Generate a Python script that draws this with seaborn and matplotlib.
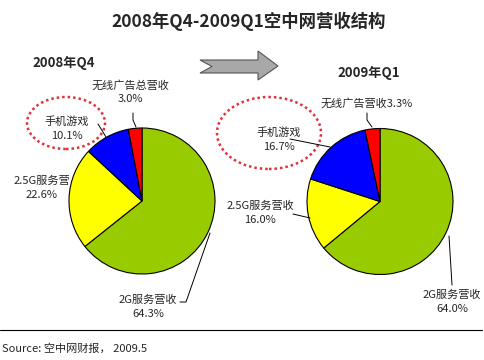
import matplotlib
matplotlib.use("Agg")
import matplotlib.pyplot as plt
import seaborn as sns
from matplotlib.patches import Ellipse, Polygon

categories = ["2G服务营收", "2.5G服务营收", "手机游戏", "无线广告营收"]
q4_values = [64.3, 22.6, 10.1, 3.0]
q1_values = [64.0, 16.0, 16.7, 3.3]
colors = ["#99CC00", "#FFFF00", "#0000FF", "#FF0000"]

sns.set_theme(style="white")
plt.rcParams['font.family'] = ['Noto Sans CJK SC', 'DejaVu Sans']

W, H = 485, 360
fig = plt.figure(figsize=(4.85, 3.6), dpi=100)
ax = fig.add_axes([0, 0, 1, 1])

def Y(py):
    return H - py

def draw_pie(vals, cx, cy, r):
    ax.pie(vals, colors=colors, startangle=90, counterclock=False,
           center=(cx, Y(cy)), radius=r,
           wedgeprops=dict(edgecolor="black", linewidth=0.8))

draw_pie(q4_values, 142, 201, 73)
draw_pie(q1_values, 380, 201.5, 73)

ax.set_xlim(0, W)
ax.set_ylim(0, H)
ax.set_aspect("auto")
ax.axis("off")

fs = 8
# title
ax.text(249, Y(21), "2008年Q4-2009Q1空中网营收结构", ha="center", va="center",
        fontsize=12.5, fontweight="bold")
ax.text(64, Y(63), "2008年Q4", ha="center", va="center", fontsize=9.5, fontweight="bold")
ax.text(369, Y(73), "2009年Q1", ha="center", va="center", fontsize=9.5, fontweight="bold")

# arrow
arrow = Polygon([(200, Y(60)), (258, Y(60)), (258, Y(51)), (278, Y(66)),
                 (258, Y(80)), (258, Y(73)), (200, Y(73)), (212, Y(66.5))],
                closed=True, facecolor="#A8A8A8", edgecolor="#555555", linewidth=0.8)
ax.add_patch(arrow)

# ellipses
ax.add_patch(Ellipse((66, Y(123)), 78, 52, fill=False, edgecolor="#E0303A",
                     linestyle=(0, (1, 1.2)), linewidth=1.8))
ax.add_patch(Ellipse((269, Y(133)), 104, 72, fill=False, edgecolor="#E0303A",
                     linestyle=(0, (1, 1.2)), linewidth=1.8))

def label(x, y, s):
    ax.text(x, Y(y), s, ha="center", va="center", fontsize=fs, linespacing=1.5)

def line(pts):
    xs = [p[0] for p in pts]
    ys = [Y(p[1]) for p in pts]
    ax.plot(xs, ys, color="black", linewidth=0.7)

# left labels
label(130, 92, "无线广告总营收\n3.0%")
line([(133, 113), (133, 120), (136, 127)])
label(67, 129, "手机游戏\n10.1%")
line([(98, 124), (106, 137)])
label(42, 188, "2.5G服务营\n22.6%")
label(148, 307, "2G服务营收\n64.3%")
line([(180, 302), (186, 302), (210, 233)])

# right labels
ax.text(367, Y(103), "无线广告营收3.3%", ha="center", va="center", fontsize=fs)
line([(367, 113), (367, 120), (372, 127)])
label(279, 140, "手机游戏\n16.7%")
line([(290, 139), (330, 147)])
label(260, 213, "2.5G服务营收\n16.0%")
line([(293, 214), (310, 218)])
label(452, 302, "2G服务营收\n64.0%")
line([(452, 285), (449, 236)])

# bottom rule and source
ax.plot([0, 482], [Y(330), Y(330)], color="black", linewidth=0.8)
ax.text(2, Y(348), "Source: 空中网财报， 2009.5", ha="left", va="center", fontsize=fs)

fig.savefig("out.png", dpi=100)
